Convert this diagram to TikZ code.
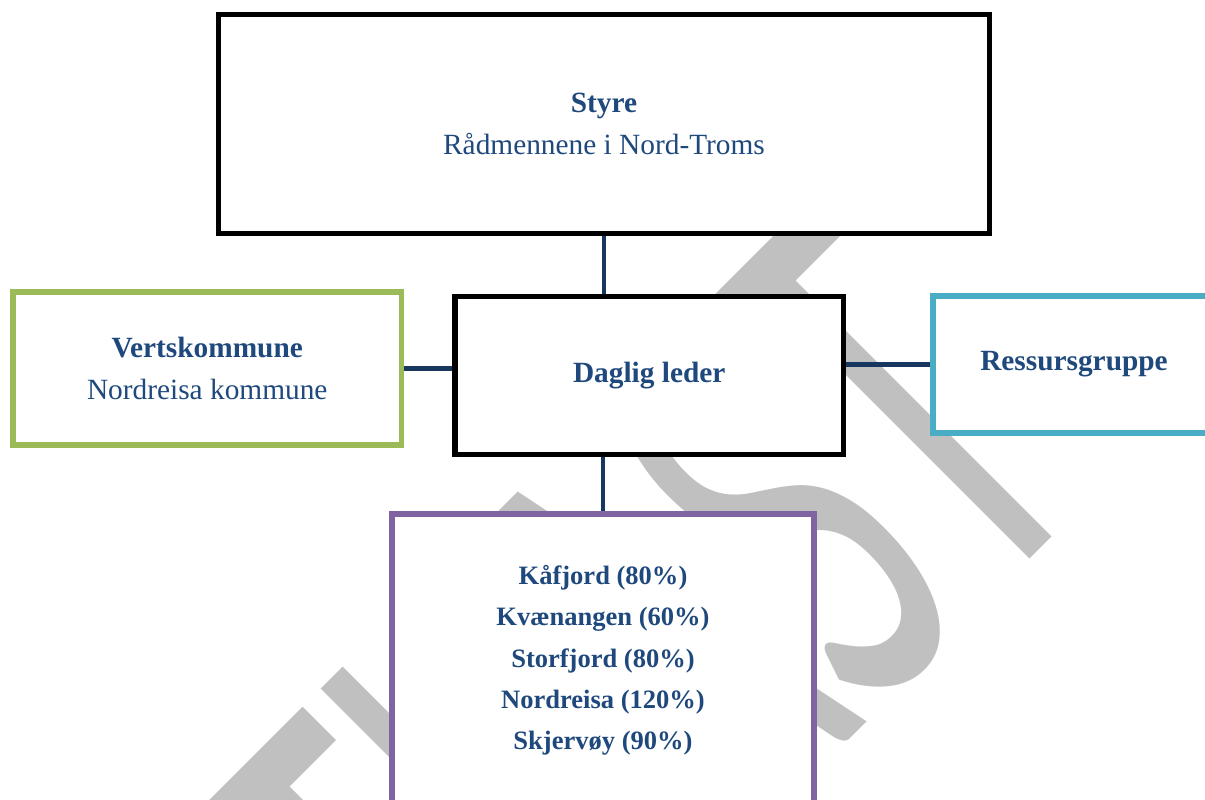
\documentclass[tikz,border=0pt]{standalone}
\usepackage{fontspec}
\usepackage{graphicx}
\setmainfont{Liberation Serif}
\newfontfamily\wmfont{Carlito}
\usetikzlibrary{positioning,calc}
\definecolor{textblue}{RGB}{31,73,125}
\definecolor{linenavy}{RGB}{23,55,94}
\definecolor{boxgreen}{RGB}{155,187,89}
\definecolor{boxblue}{RGB}{75,172,198}
\definecolor{boxpurple}{RGB}{128,100,162}
\definecolor{wmgray}{RGB}{192,192,192}
\tikzset{
  orgbox/.style={draw=black, fill=white, line width=3.2pt, align=center, text=textblue,
    inner sep=0pt, font=\fontsize{16.7}{23.9}\selectfont},
  listbox/.style={orgbox, draw=boxpurple, line width=3pt, font=\bfseries\fontsize{15.1}{23.5}\selectfont},
  link/.style={linenavy, line width=2.8pt}
}
\begin{document}
\begin{tikzpicture}
  \useasboundingbox (0,0) rectangle (24.1,16);
  \clip (0,0) rectangle (24.1,16);

  % Watermark
  \node[wmgray, rotate=45, anchor=base, inner sep=0pt] (utkast) at (14.16,-1.62)
    {\scalebox{0.55}[1]{\wmfont\fontsize{363}{363}\selectfont UTKAST}};

  % Boxes
  \node[orgbox, minimum width=15.42cm, minimum height=4.38cm] (styre) at (12.08,13.52)
    {\textbf{Styre}\\Rådmennene i Nord-Troms};
  \node[orgbox, minimum width=7.77cm, minimum height=3.16cm] (leder) at (12.985,8.49)
    {\textbf{Daglig leder}};
  \node[orgbox, draw=boxgreen, line width=3.1pt, minimum width=7.77cm, minimum height=3.06cm] (vert) at (4.145,8.63)
    {\textbf{Vertskommune}\\Nordreisa kommune};
  \node[orgbox, draw=boxblue, line width=3.1pt, minimum width=5.64cm, minimum height=2.74cm] (ressurs) at (21.48,8.71)
    {\textbf{Ressursgruppe}};
  \node[listbox, minimum width=8.44cm, minimum height=5.86cm] (kommuner) at (12.06,2.79)
    {Kåfjord (80\%)\\Kvænangen (60\%)\\Storfjord (80\%)\\Nordreisa (120\%)\\Skjervøy (90\%)};

  % Connectors
  \draw[link] (styre.south) -- (styre.south |- leder.north);
  \draw[link] (kommuner.north |- leder.south) -- (kommuner.north);
  \draw[link] (vert.east) -- (vert.east -| leder.west);
  \draw[link] (ressurs.west -| leder.east) -- (ressurs.west);
\end{tikzpicture}
\end{document}
